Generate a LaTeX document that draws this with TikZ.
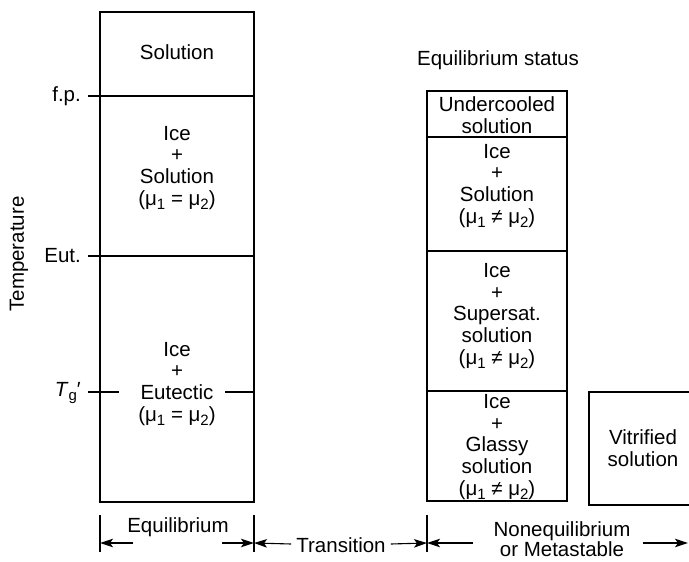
\documentclass[tikz,border=0pt]{standalone}
\usepackage{fontspec}
\setmainfont{Liberation Sans}
\usetikzlibrary{arrows.meta}
\newcommand\sbs[1]{\raisebox{-0.4ex}{\fontsize{15}{15}\selectfont #1}}
\begin{document}
\begin{tikzpicture}[x=1pt,y=-1pt,
  every node/.style={font=\fontsize{20.5}{21.8}\selectfont, inner sep=0pt, align=center},
  ln/.style={line width=1.1pt},
  arr/.style={line width=1.1pt,-{Stealth[length=13pt,width=8.5pt,inset=3pt]}}]
\useasboundingbox (0,0) rectangle (689,562);
% left box
\draw[ln] (100,12) rectangle (254,502);
\draw[ln] (88,96) -- (254,96);
\draw[ln] (88,256) -- (254,256);
\draw[ln] (88,392) -- (119,392);
\draw[ln] (225,392) -- (254,392);
\node (sol) at (177,52) {Solution};
\node (ice1) at (177,168) {Ice\\+\\Solution\\(μ\sbs{1} = μ\sbs{2})};
\node (ice2) at (177,384) {Ice\\+\\Eutectic\\(μ\sbs{1} = μ\sbs{2})};
\node[anchor=east] (fp) at (81,96) {f.p.};
\node[anchor=east] (eut) at (81,256) {Eut.};
\node[anchor=east] (tg) at (81,393) {\textit{T}\sbs{g}′};
\node[rotate=90] (temp) at (19,254) {Temperature};
% right column
\node (status) at (498,60) {Equilibrium status};
\draw[ln] (427,91) rectangle (567,501);
\draw[ln] (427,137) -- (567,137);
\draw[ln] (427,251) -- (567,251);
\draw[ln] (427,391) -- (567,391);
\node (und) at (497,115) {Undercooled\\solution};
\node (ice3) at (497,186) {Ice\\+\\Solution\\(μ\sbs{1} ≠ μ\sbs{2})};
\node (ice4) at (497,316) {Ice\\+\\Supersat.\\solution\\(μ\sbs{1} ≠ μ\sbs{2})};
\node (ice5) at (497,447) {Ice\\+\\Glassy\\solution\\(μ\sbs{1} ≠ μ\sbs{2})};
\draw[ln] (689,392) -- (589,392) -- (589,505) -- (689,505);
\node (vit) at (643,448) {Vitrified\\solution};
% bottom scale
\coordinate (t1a) at (100,515); \coordinate (t1b) at (100,552);
\coordinate (t2a) at (254,515); \coordinate (t2b) at (254,552);
\coordinate (t3a) at (427,515); \coordinate (t3b) at (427,552);
\draw[ln] (t1a) -- (t1b);
\draw[ln] (t2a) -- (t2b);
\draw[ln] (t3a) -- (t3b);
\node (eq) at (178,527) {Equilibrium};
\coordinate (e1) at (133,543); \coordinate (e2) at (222,543);
\draw[arr] (e1) -- (100,543);
\draw[arr] (e2) -- (254,543);
\node (tr) at (341,545) {Transition};
\draw[arr] (tr.west) ++(-5,-1) -- (254,543);
\draw[arr] (tr.east) ++(5,-1) -- (427,543);
\node (ne) at (562,539) {Nonequilibrium\\[-2pt]or Metastable};
\coordinate (n1) at (473,543); \coordinate (n2) at (643,543);
\draw[arr] (n1) -- (427,543);
\draw[arr] (n2) -- (688,543);
\end{tikzpicture}
\end{document}
